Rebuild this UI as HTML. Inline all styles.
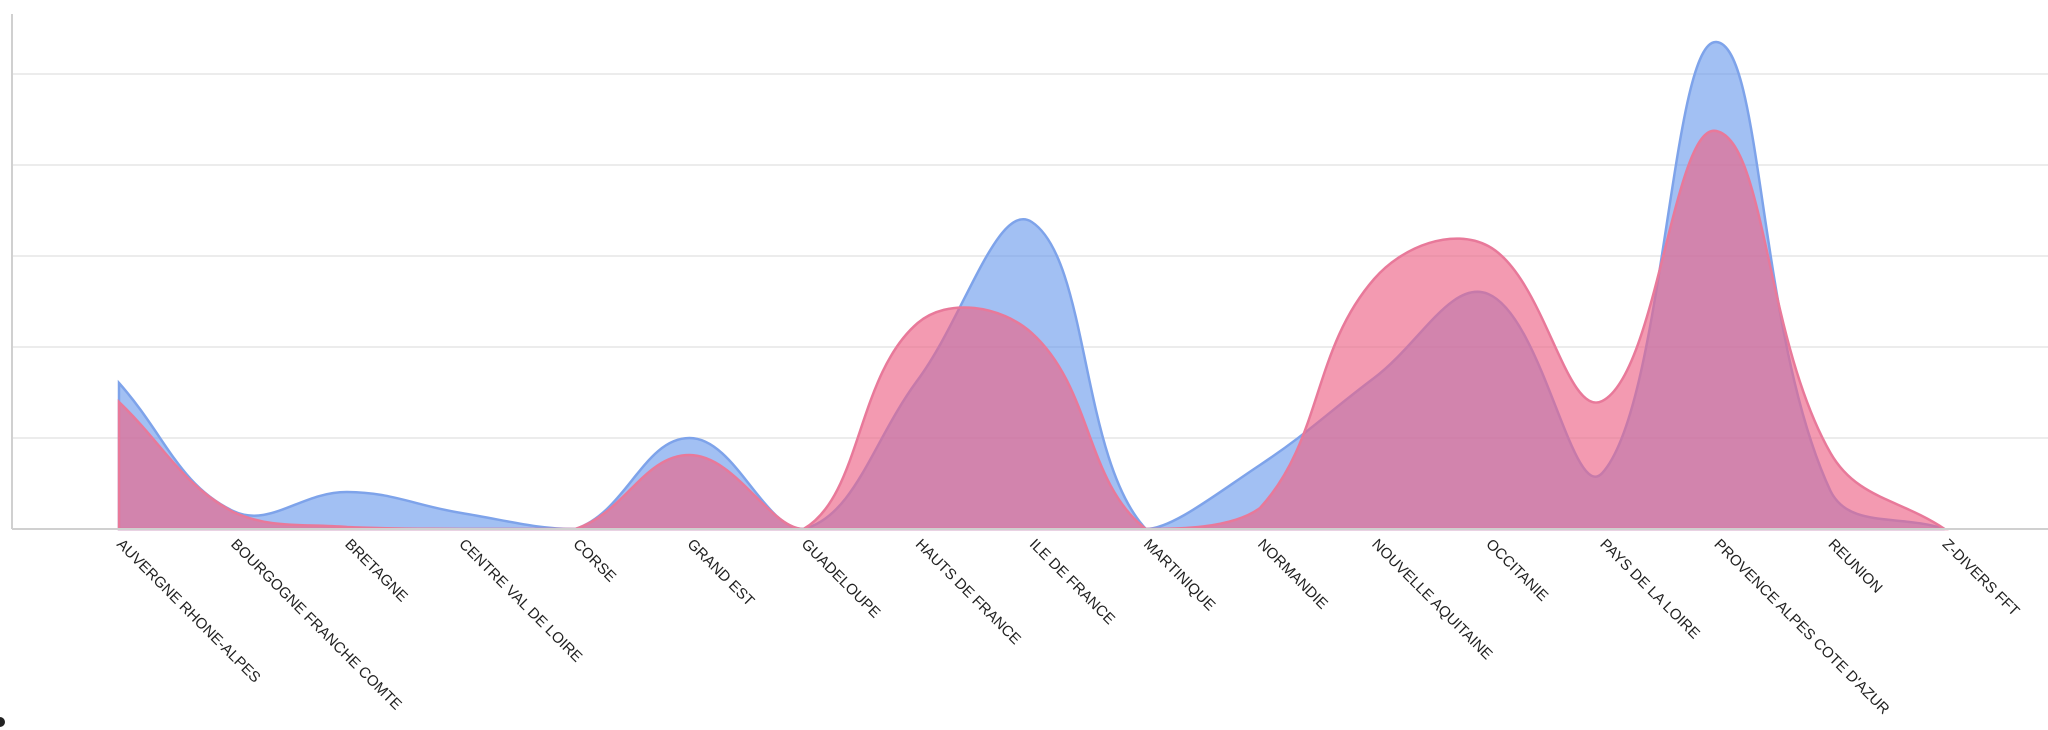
<!DOCTYPE html>
<html><head><meta charset="utf-8"><style>
html,body{margin:0;padding:0;background:#fff;width:2048px;height:730px;overflow:hidden}
svg text{font-family:"Liberation Sans",sans-serif;font-size:15px;fill:#222}
</style></head><body>
<svg id="c" width="2048" height="730" xmlns="http://www.w3.org/2000/svg">
<g stroke="#e6e6e6" stroke-width="1.5">
<line x1="12" y1="74" x2="2048" y2="74"/><line x1="12" y1="165" x2="2048" y2="165"/>
<line x1="12" y1="256" x2="2048" y2="256"/><line x1="12" y1="347" x2="2048" y2="347"/>
<line x1="12" y1="438" x2="2048" y2="438"/>
</g>
<line x1="12" y1="14" x2="12" y2="529" stroke="#d0d0d0" stroke-width="2"/>
<path id="pb" fill="rgba(100,150,235,0.6)" stroke="#7ea3ea" stroke-width="2.5"/>
<path id="pp" fill="rgba(237,100,135,0.65)" stroke="#e8799a" stroke-width="2.5"/>
<line x1="12" y1="529" x2="2048" y2="529" stroke="#d0d0d0" stroke-width="2"/>
<g id="lbl"></g>
<circle cx="0" cy="722" r="5" fill="#222"/>
</svg>
<script>
var names=["AUVERGNE RHONE-ALPES","BOURGOGNE FRANCHE COMTE","BRETAGNE","CENTRE VAL DE LOIRE","CORSE","GRAND EST","GUADELOUPE","HAUTS DE FRANCE","ILE DE FRANCE","MARTINIQUE","NORMANDIE","NOUVELLE AQUITAINE","OCCITANIE","PAYS DE LA LOIRE","PROVENCE ALPES COTE D'AZUR","REUNION","Z-DIVERS FFT"];
var blue=[146,18,37,16,0,91,0,149,307,0,64,151,235,56,487,38,0];
var pink=[127,17,2,0,0,74,0,206,196,0,21,250,283,128,398,76,0];
var B=529,x0=119,dx=114.1;
function path(v,close){
 var p=v.map(function(h,i){return [x0+i*dx,B-h]});
 var t=0.4,d="M"+p[0][0]+","+p[0][1];
 var cp=[];
 for(var i=0;i<p.length;i++){
  var pr=p[Math.max(i-1,0)],c=p[i],nx=p[Math.min(i+1,p.length-1)];
  var d01=Math.hypot(c[0]-pr[0],c[1]-pr[1]),d12=Math.hypot(nx[0]-c[0],nx[1]-c[1]);
  var s01=d01/(d01+d12)||0,s12=d12/(d01+d12)||0;
  var fa=t*s01,fb=t*s12;
  cp.push([[c[0]-fa*(nx[0]-pr[0]),c[1]-fa*(nx[1]-pr[1])],[c[0]+fb*(nx[0]-pr[0]),c[1]+fb*(nx[1]-pr[1])]]);
 }
 for(var i=1;i<p.length;i++){
  var a=cp[i-1][1],b=cp[i][0];
  a=[a[0],Math.min(a[1],B)];b=[b[0],Math.min(b[1],B)];
  d+=" C"+a[0]+","+a[1]+" "+b[0]+","+b[1]+" "+p[i][0]+","+p[i][1];
 }
 d+=" L"+p[p.length-1][0]+","+B+" L"+p[0][0]+","+B+" Z";
 return d;
}
document.getElementById("pb").setAttribute("d",path(blue));
document.getElementById("pp").setAttribute("d",path(pink));
var g=document.getElementById("lbl"),s="";
names.forEach(function(n,i){
 var x=x0+i*dx-3,y=545;
 s+='<text x="'+x+'" y="'+y+'" transform="rotate(45 '+x+' '+y+')">'+n.replace("'","&#39;")+'</text>';
});
g.innerHTML=s;
</script>
</body></html>
